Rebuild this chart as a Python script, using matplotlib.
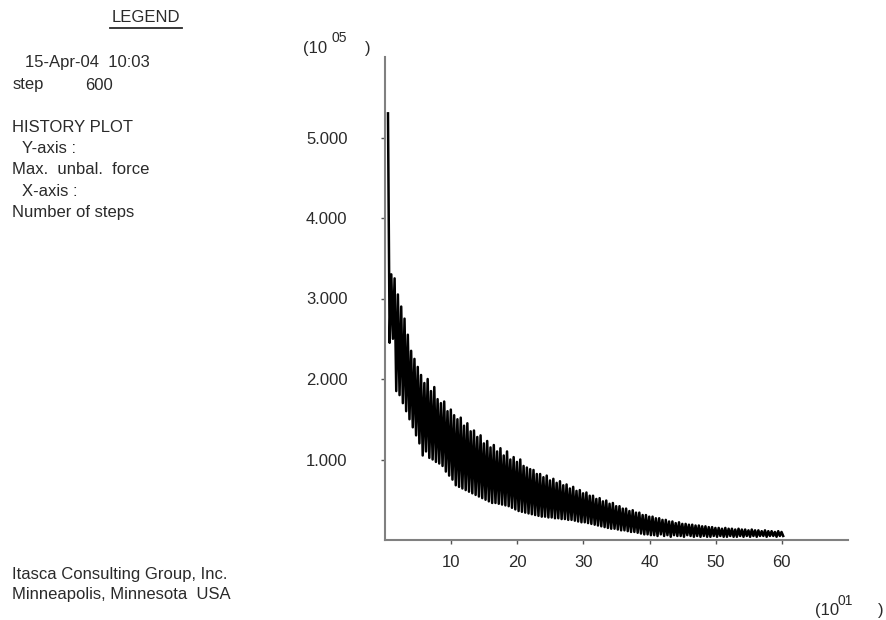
import numpy as np
import matplotlib
matplotlib.use("Agg")
from matplotlib import pyplot as plt

plt.rcParams["font.family"] = ["Liberation Sans", "DejaVu Sans"]

# History of max. unbalanced force (units of 10^5) vs step (units of 10^1)
# peaks and troughs, alternating every 5 steps
peaks = [5.30, 3.30, 3.25, 3.05, 2.90, 2.75, 2.55, 2.35, 2.25, 2.15,
         2.05, 1.95, 2.00, 1.85, 1.90, 1.75, 1.70, 1.72, 1.60, 1.62,
         1.55, 1.50, 1.52, 1.42, 1.45, 1.35, 1.36, 1.28, 1.30, 1.20,
         1.23, 1.15, 1.18, 1.10, 1.14, 1.05, 1.10, 1.00, 1.03, 0.97,
         1.00, 0.92, 0.90, 0.88, 0.87, 0.82, 0.82, 0.78, 0.80, 0.74,
         0.76, 0.71, 0.73, 0.68, 0.69, 0.64, 0.66, 0.61, 0.62, 0.58,
         0.59, 0.55, 0.55, 0.51, 0.52, 0.48, 0.49, 0.45, 0.46, 0.42,
         0.42, 0.39, 0.39, 0.36, 0.37, 0.34, 0.34, 0.31, 0.31, 0.29,
         0.29, 0.27, 0.27, 0.25, 0.25, 0.23, 0.23, 0.21, 0.22, 0.20,
         0.20, 0.19, 0.19, 0.18, 0.18, 0.17, 0.17, 0.16, 0.16, 0.15,
         0.15, 0.14, 0.15, 0.14, 0.14, 0.13, 0.14, 0.13, 0.13, 0.12,
         0.13, 0.12, 0.12, 0.11, 0.12, 0.11, 0.11, 0.10, 0.11, 0.10]
troughs = [2.45, 2.50, 1.85, 1.80, 1.70, 1.60, 1.50, 1.40, 1.30, 1.20,
           1.05, 1.10, 1.02, 1.00, 0.97, 0.95, 0.92, 0.85, 0.80, 0.75,
           0.68, 0.66, 0.64, 0.62, 0.60, 0.58, 0.56, 0.54, 0.52, 0.50,
           0.48, 0.46, 0.46, 0.45, 0.44, 0.43, 0.42, 0.40, 0.38, 0.36,
           0.35, 0.34, 0.33, 0.32, 0.31, 0.30, 0.29, 0.29, 0.28, 0.28,
           0.27, 0.27, 0.26, 0.26, 0.25, 0.25, 0.24, 0.23, 0.22, 0.22,
           0.21, 0.20, 0.19, 0.18, 0.17, 0.16, 0.15, 0.14, 0.14, 0.13,
           0.12, 0.12, 0.11, 0.10, 0.10, 0.09, 0.08, 0.07, 0.07, 0.06,
           0.06, 0.05, 0.07, 0.05, 0.06, 0.04, 0.06, 0.05, 0.05, 0.04,
           0.06, 0.05, 0.04, 0.05, 0.04, 0.05, 0.04, 0.04, 0.05, 0.04,
           0.05, 0.04, 0.04, 0.05, 0.04, 0.04, 0.05, 0.04, 0.05, 0.04,
           0.05, 0.04, 0.05, 0.05, 0.04, 0.05, 0.05, 0.04, 0.05, 0.05]
peak_x = np.arange(len(peaks)) * 0.5 + 0.45
trough_x = np.arange(len(troughs)) * 0.5 + 0.7

x_ticks = [10, 20, 30, 40, 50, 60]
y_ticks = [1.0, 2.0, 3.0, 4.0, 5.0]

# interleave peaks and troughs into one history
xs = np.empty(len(peaks) * 2)
ys = np.empty(len(peaks) * 2)
xs[0::2], xs[1::2] = peak_x, trough_x
ys[0::2], ys[1::2] = peaks, troughs

fig = plt.figure(figsize=(8.86, 6.2), dpi=100)
ax = fig.add_axes([385 / 886, 80 / 620, 463 / 886, 483 / 620])
ax.plot(xs, ys, c="black", lw=1.8)

ax.set_xlim(0, 70)
ax.set_ylim(0, 6)
for s in ["top", "right"]:
    ax.spines[s].set_visible(False)
for s in ["left", "bottom"]:
    ax.spines[s].set_color("#808080")
    ax.spines[s].set_linewidth(1.5)

ax.set_xticks(x_ticks)
ax.set_xticklabels([str(t) for t in x_ticks])
ax.set_yticks(y_ticks)
ax.set_yticklabels(["%.3f" % t for t in y_ticks])
ax.tick_params(axis="x", length=3, width=1, color="#555555", pad=8,
               labelsize=12, labelcolor="#2a2a2a")
ax.tick_params(axis="y", length=3, width=1, color="#555555", pad=24,
               labelsize=12, labelcolor="#2a2a2a")

# axis multipliers
tc = "#2a2a2a"
fig.text(303 / 886, 1 - 49 / 620, "(10", fontsize=12, color=tc, va="center")
fig.text(332 / 886, 1 - 38 / 620, "05", fontsize=10, color=tc, va="center")
fig.text(365 / 886, 1 - 49 / 620, ")", fontsize=12, color=tc, va="center")
fig.text(815 / 886, 1 - 611 / 620, "(10", fontsize=12, color=tc, va="center")
fig.text(838 / 886, 1 - 601 / 620, "01", fontsize=10, color=tc, va="center")
fig.text(878 / 886, 1 - 611 / 620, ")", fontsize=12, color=tc, va="center")

# legend block
fig.text(146 / 886, 1 - 17 / 620, "LEGEND", fontsize=12, color=tc,
         ha="center", va="center")
fig.add_artist(plt.Line2D([110 / 886, 182 / 886], [1 - 28 / 620, 1 - 28 / 620],
                          color=tc, lw=1.3))
legend_lines = [
    (25, 63, "15-Apr-04  10:03"),
    (13, 85, "step"),
    (85, 85, "600"),
    (12, 127, "HISTORY PLOT"),
    (22, 148, "Y-axis :"),
    (12, 170, "Max.  unbal.  force"),
    (22, 192, "X-axis :"),
    (12, 213, "Number of steps"),
    (12, 575, "Itasca Consulting Group, Inc."),
    (12, 594, "Minneapolis, Minnesota  USA"),
]
for lx, ly, txt in legend_lines:
    fig.text(lx / 886, 1 - ly / 620, txt, fontsize=12, color=tc, va="center")

fig.savefig("out.png", dpi=100)
